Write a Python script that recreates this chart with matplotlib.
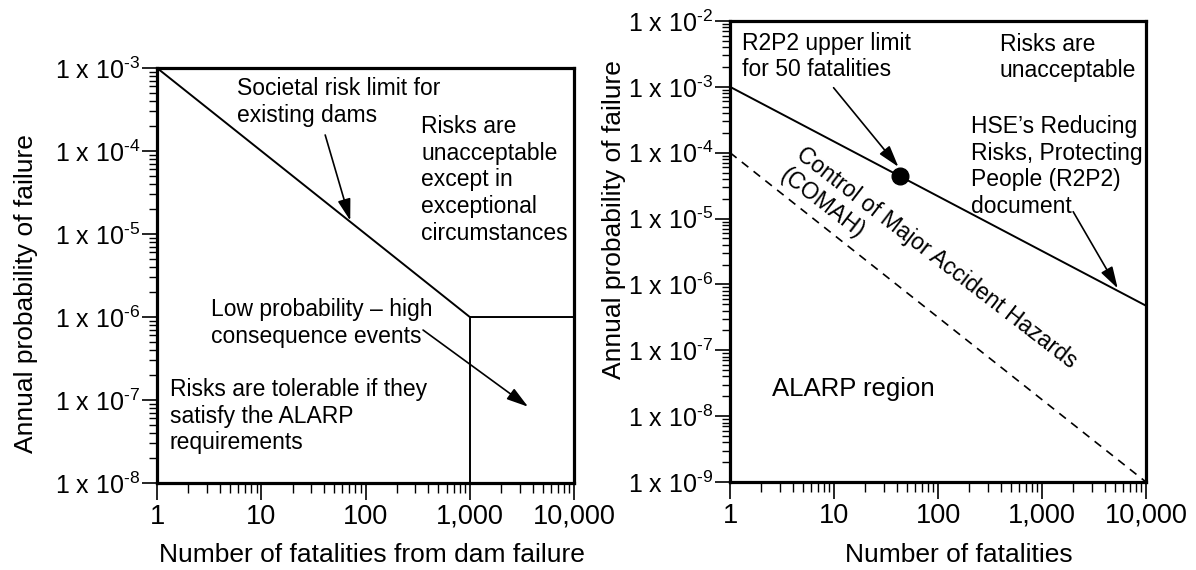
import matplotlib
matplotlib.use('Agg')
import matplotlib.pyplot as plt
from matplotlib.ticker import FixedLocator, LogLocator, NullFormatter

plt.rcParams['font.family'] = ['Liberation Sans', 'DejaVu Sans']
plt.rcParams['mathtext.fontset'] = 'custom'
plt.rcParams['mathtext.rm'] = 'Liberation Sans'
plt.rcParams['axes.unicode_minus'] = False

# left panel: societal risk limit for dams
dam_limit_x = [1, 1000, 10000]
dam_limit_y = [1e-3, 1e-6, 1e-6]
dam_split_x = [1000, 1000]
dam_split_y = [1e-8, 1e-6]

# right panel: HSE R2P2 line, COMAH line, R2P2 point
hse_x = [1, 10000]
hse_y = [1e-3, 4.75e-7]
comah_x = [1, 10000]
comah_y = [1e-4, 1e-9]
r2p2_x = [43]
r2p2_y = [4.4e-5]

x_ticks = [1, 10, 100, 1000, 10000]
x_labels = ['1', '10', '100', '1,000', '10,000']
left_exps = [-8, -7, -6, -5, -4, -3]
right_exps = [-9, -8, -7, -6, -5, -4, -3, -2]

XTICK_FS = 19.5
YTICK_FS = 18
LAB_FS = 19
TXT_FS = 16.5
LW = 1.4


def style_axis(ax, exps):
    ax.set_xscale('log')
    ax.set_yscale('log')
    ax.set_xlim(1, 10000)
    ax.set_ylim(10.0 ** exps[0], 10.0 ** exps[-1])
    ax.xaxis.set_major_locator(FixedLocator(x_ticks))
    ax.set_xticklabels(x_labels)
    ax.xaxis.set_minor_locator(LogLocator(base=10, subs=range(2, 10)))
    ax.xaxis.set_minor_formatter(NullFormatter())
    ax.yaxis.set_major_locator(FixedLocator([10.0 ** e for e in exps]))
    ax.set_yticklabels(['1 x 10$^{\\text{-%d}}$' % -e for e in exps])
    ax.yaxis.set_minor_locator(LogLocator(base=10, subs=range(2, 10), numticks=20))
    ax.yaxis.set_minor_formatter(NullFormatter())
    ax.tick_params(axis='x', which='major', direction='out', length=12, width=1.2,
                   labelsize=XTICK_FS, pad=3)
    ax.tick_params(axis='x', which='minor', direction='out', length=7, width=1.0)
    ax.tick_params(axis='y', which='major', direction='out', length=11, width=1.2,
                   labelsize=YTICK_FS, pad=1)
    ax.tick_params(axis='y', which='minor', direction='out', length=6, width=1.0)
    for sp in ax.spines.values():
        sp.set_linewidth(2.3)


def arrow(ax, tip, tail):
    ax.annotate('', xy=tip, xytext=tail,
                arrowprops=dict(arrowstyle='-|>,head_length=0.6,head_width=0.18',
                                color='k', lw=1.2, mutation_scale=22,
                                shrinkA=0, shrinkB=0))


fig = plt.figure(figsize=(11.96, 5.70), dpi=100)
ax1 = fig.add_axes([0.1313, 0.1526, 0.3487, 0.7281])
ax2 = fig.add_axes([0.6104, 0.1544, 0.3478, 0.8088])

'''左图'''
style_axis(ax1, left_exps)
ax1.plot(dam_limit_x, dam_limit_y, color='k', lw=LW)
ax1.plot(dam_split_x, dam_split_y, color='k', lw=LW)
ax1.set_xlabel('Number of fatalities from dam failure', fontsize=LAB_FS)
ax1.set_ylabel('Annual probability of failure', fontsize=LAB_FS)
ax1.xaxis.set_label_coords(0.516, -0.145)
ax1.yaxis.set_label_coords(-0.285, 0.457)

ax1.text(5.85, 7.8e-4, 'Societal risk limit for\nexisting dams', fontsize=TXT_FS,
         ha='left', va='top')
arrow(ax1, (71.3, 1.45e-5), (41, 1.56e-4))
ax1.text(341, 2.7e-4, 'Risks are\nunacceptable\nexcept in\nexceptional\ncircumstances',
         fontsize=TXT_FS, ha='left', va='top')
ax1.text(3.26, 1.69e-6, 'Low probability \u2013 high\nconsequence events',
         fontsize=TXT_FS, ha='left', va='top')
arrow(ax1, (3620, 8.3e-8), (356, 6.97e-7))
ax1.text(1.32, 1.84e-7, 'Risks are tolerable if they\nsatisfy the ALARP\nrequirements',
         fontsize=TXT_FS, ha='left', va='top')

'''右图'''
style_axis(ax2, right_exps)
ax2.plot(hse_x, hse_y, color='k', lw=LW)
ax2.plot(comah_x, comah_y, color='k', lw=1.2, linestyle=(0, (5, 4)))
ax2.plot(r2p2_x, r2p2_y, 'o', color='k', markersize=12)
ax2.set_xlabel('Number of fatalities', fontsize=LAB_FS)
ax2.set_ylabel('Annual probability of failure', fontsize=LAB_FS)
ax2.xaxis.set_label_coords(0.55, -0.132)
ax2.yaxis.set_label_coords(-0.25, 0.57)

ax2.text(1.29, 6.9e-3, 'R2P2 upper limit\nfor 50 fatalities', fontsize=TXT_FS,
         ha='left', va='top')
arrow(ax2, (41.6, 6.1e-5), (9.9, 9.7e-4))
ax2.text(393, 6.6e-3, 'Risks are\nunacceptable', fontsize=TXT_FS, ha='left', va='top')
ax2.text(209, 3.74e-4, 'HSE\u2019s Reducing\nRisks, Protecting\nPeople (R2P2)\ndocument',
         fontsize=TXT_FS, ha='left', va='top')
arrow(ax2, (5345, 8.7e-7), (1995, 1.27e-5))
ax2.text(5.38, 1.41e-4, 'Control of Major Accident Hazards\n(COMAH)', fontsize=TXT_FS,
         ha='left', va='top', rotation=-37.6, rotation_mode='anchor')
ax2.text(2.54, 2.6e-8, 'ALARP region', fontsize=18.5, ha='left', va='center')

fig.savefig('out.png', dpi=100)
